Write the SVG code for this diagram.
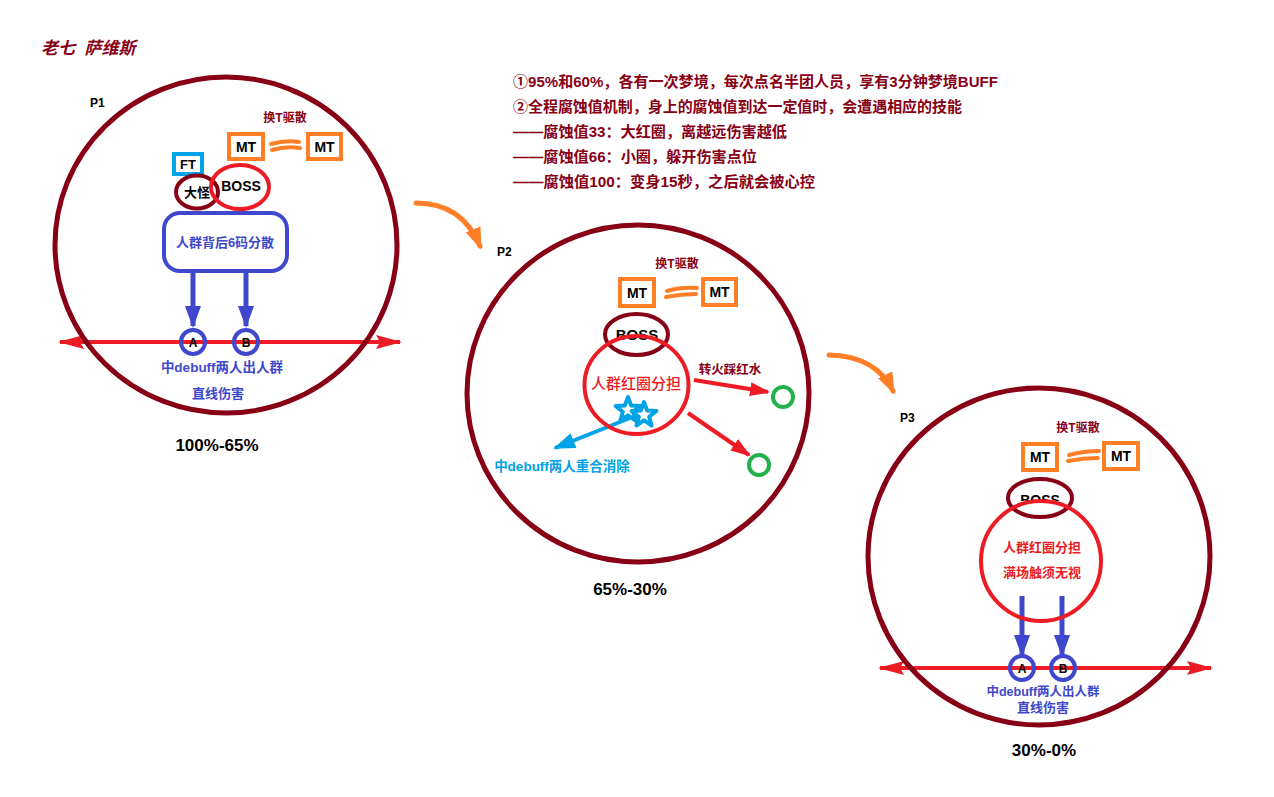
<svg xmlns="http://www.w3.org/2000/svg" width="1274" height="797" viewBox="0 0 1274 797">
<style>
text{font-family:"Liberation Sans","Noto Sans CJK SC",sans-serif;font-weight:bold;dominant-baseline:central}
.c{text-anchor:middle}
.big{fill:none;stroke:#880015;stroke-width:5}
.dr{fill:#880015}
.blk{fill:#000}
.blu{fill:#3f48cc}
.lb{fill:#00a2e8}
.red{fill:#ed1c24}
.mt{fill:#fff;stroke:#ff7f27;stroke-width:4}
.sq{fill:none;stroke:#ff7f27;stroke-width:4;stroke-linecap:round}
.rl{stroke:#ed1c24;stroke-width:4;fill:none}
.ba{stroke:#3f48cc;stroke-width:5;fill:none}
.bc{fill:none;stroke:#3f48cc;stroke-width:4}
.gc{fill:none;stroke:#22b14c;stroke-width:4}
.oa{fill:none;stroke:#ff7f27;stroke-width:5;stroke-linecap:round}
</style>
<defs>
<marker id="mRed" markerUnits="userSpaceOnUse" markerWidth="26" markerHeight="14" refX="24" refY="7" orient="auto-start-reverse"><path d="M0,0 L26,7 L0,14 L4,7 z" fill="#ed1c24"/></marker>
<marker id="mRed2" markerUnits="userSpaceOnUse" markerWidth="20" markerHeight="14" refX="18" refY="7" orient="auto"><path d="M0,0 L20,7 L0,14 z" fill="#ed1c24"/></marker>
<marker id="mBlue" markerUnits="userSpaceOnUse" markerWidth="22" markerHeight="16" refX="20" refY="8" orient="auto"><path d="M0,0 L22,8 L0,16 z" fill="#3f48cc"/></marker>
<marker id="mLB" markerUnits="userSpaceOnUse" markerWidth="22" markerHeight="16" refX="20" refY="8" orient="auto"><path d="M0,0 L22,8 L0,16 z" fill="#00a2e8"/></marker>
<marker id="mOr" markerUnits="userSpaceOnUse" markerWidth="22" markerHeight="16" refX="18" refY="8" orient="auto"><path d="M0,0 L22,8 L0,16 z" fill="#ff7f27"/></marker>
<path id="star" d="M0,-13 L3.2,-4.4 L12.4,-4 L5.2,1.7 L7.6,10.5 L0,5.4 L-7.6,10.5 L-5.2,1.7 L-12.4,-4 L-3.2,-4.4 Z" fill="#fff" stroke="#00a2e8" stroke-width="4" stroke-linejoin="round"/>
<clipPath id="bossClip"><rect x="1000" y="480" width="80" height="21"/></clipPath>
</defs>
<rect width="1274" height="797" fill="#fff"/>

<g id="connectors">
<path d="M193,272 V326" class="ba" marker-end="url(#mBlue)"/>
<path d="M246,272 V326" class="ba" marker-end="url(#mBlue)"/>
<path d="M60,342 H400" class="rl" marker-start="url(#mRed)" marker-end="url(#mRed)"/>
<path d="M1022,596 V655" class="ba" marker-end="url(#mBlue)"/>
<path d="M1062,596 V655" class="ba" marker-end="url(#mBlue)"/>
<path d="M880,668 H1211" class="rl" marker-start="url(#mRed)" marker-end="url(#mRed)"/>
<path d="M694,380 L768,392" class="rl" marker-end="url(#mRed2)"/>
<path d="M688,413 L749,455" class="rl" marker-end="url(#mRed2)"/>
<path d="M630,418 L555,448" fill="none" stroke="#00a2e8" stroke-width="4" marker-end="url(#mLB)"/>
<path d="M416,203 Q462,203 480,246" class="oa" marker-end="url(#mOr)"/>
<path d="M829,355 Q876,356 893,391" class="oa" marker-end="url(#mOr)"/>
</g>

<g id="title"><text x="41" y="48" class="dr" style="font-style:italic;font-size:17px;white-space:pre">老七  萨维斯</text></g>

<g id="notes" style="font-size:15px">
<text x="513" y="81" class="dr" textLength="485" lengthAdjust="spacingAndGlyphs">①95%和60%，各有一次梦境，每次点名半团人员，享有3分钟梦境BUFF</text>
<text x="513" y="106" class="dr" textLength="449" lengthAdjust="spacingAndGlyphs">②全程腐蚀值机制，身上的腐蚀值到达一定值时，会遭遇相应的技能</text>
<text x="513" y="131" class="dr" textLength="274" lengthAdjust="spacingAndGlyphs">——腐蚀值33：大红圈，离越远伤害越低</text>
<text x="513" y="156" class="dr" textLength="244" lengthAdjust="spacingAndGlyphs">——腐蚀值66：小圈，躲开伤害点位</text>
<text x="513" y="181" class="dr" textLength="302" lengthAdjust="spacingAndGlyphs">——腐蚀值100：变身15秒，之后就会被心控</text>
</g>

<!-- P1 -->
<g id="p1">
<ellipse cx="226" cy="245" rx="171" ry="168" class="big"/>
<text x="90" y="103" class="blk" style="font-size:12px">P1</text>
<text x="285" y="118" class="c dr" style="font-size:12px">换T驱散</text>
</g>
<g id="p1-mt1"><rect x="229" y="134" width="34" height="25" class="mt"/><text x="246" y="147" class="c blk" style="font-size:14px">MT</text></g>
<g id="p1-mt2"><rect x="308" y="134" width="33" height="25" class="mt"/><text x="324.5" y="147" class="c blk" style="font-size:14px">MT</text></g>
<g id="p1-swap"><path d="M271,144 Q285,140 299,142 M272,150 Q286,146 300,148" class="sq"/></g>
<g id="p1-ft"><rect x="174" y="154" width="28" height="20" fill="#fff" stroke="#00a2e8" stroke-width="4"/><text x="188" y="164" class="c blk" style="font-size:13px">FT</text></g>
<g id="p1-dagui"><ellipse cx="197" cy="192" rx="21" ry="16.5" fill="none" stroke="#880015" stroke-width="4"/><text x="197" y="192" class="c blk" style="font-size:13px">大怪</text></g>
<g id="p1-boss"><ellipse cx="240" cy="187" rx="29" ry="22" fill="none" stroke="#ed1c24" stroke-width="4"/><text x="241" y="186" class="c blk" style="font-size:14px">BOSS</text></g>
<g id="p1-group"><rect x="164" y="213" width="123" height="58" rx="16" fill="none" stroke="#3f48cc" stroke-width="4"/><text x="225" y="242" class="c blu" style="font-size:13px">人群背后6码分散</text></g>
<g id="p1-A"><circle cx="193" cy="342" r="12" class="bc"/><text x="193" y="343" class="c blk" style="font-size:12px">A</text></g>
<g id="p1-B"><circle cx="246" cy="342" r="12" class="bc"/><text x="246" y="343" class="c blk" style="font-size:12px">B</text></g>
<g id="p1-labels">
<text x="222" y="367" class="c blu" style="font-size:13.5px">中debuff两人出人群</text>
<text x="218" y="393" class="c blu" style="font-size:13px">直线伤害</text>
<text x="217" y="445" class="c blk" style="font-size:17px">100%-65%</text>
</g>

<!-- P2 -->
<g id="p2">
<ellipse cx="638" cy="393.5" rx="171" ry="168.5" class="big"/>
<text x="497" y="252" class="blk" style="font-size:12px">P2</text>
<text x="677" y="264" class="c dr" style="font-size:12px">换T驱散</text>
</g>
<g id="p2-mt1"><rect x="620" y="279" width="34" height="27" class="mt"/><text x="637" y="292.5" class="c blk" style="font-size:14px">MT</text></g>
<g id="p2-mt2"><rect x="703" y="279" width="33" height="26" class="mt"/><text x="719.5" y="292" class="c blk" style="font-size:14px">MT</text></g>
<g id="p2-swap"><path d="M667,291 Q681,287 697,288 M666,297 Q681,294 696,294" class="sq"/></g>
<g id="p2-boss"><ellipse cx="636.5" cy="334.5" rx="31.5" ry="20.5" fill="none" stroke="#880015" stroke-width="4"/><text x="637" y="334" class="c blk" style="font-size:15px">BOSS</text></g>
<g id="p2-share"><ellipse cx="636.5" cy="385" rx="52" ry="49" fill="none" stroke="#ed1c24" stroke-width="4"/><text x="636" y="383" class="c red" style="font-size:15px;font-weight:500">人群红圈分担</text></g>
<g id="p2-stars"><use href="#star" x="628" y="410"/><use href="#star" x="644" y="415"/></g>
<g id="p2-red-label"><text x="730" y="370" class="c dr" style="font-size:12.5px">转火踩红水</text></g>
<g id="p2-g1"><circle cx="783" cy="397" r="10" class="gc"/></g>
<g id="p2-g2"><circle cx="759" cy="465" r="10" class="gc"/></g>
<g id="p2-lb-label"><text x="562" y="466" class="c lb" style="font-size:13.5px">中debuff两人重合消除</text></g>
<g id="p2-pct"><text x="630" y="589" class="c blk" style="font-size:17px">65%-30%</text></g>

<!-- P3 -->
<g id="p3">
<ellipse cx="1039" cy="556.5" rx="171" ry="168.5" class="big"/>
<text x="900" y="418" class="blk" style="font-size:12px">P3</text>
<text x="1078" y="428" class="c dr" style="font-size:12px">换T驱散</text>
</g>
<g id="p3-mt1"><rect x="1023" y="444" width="34" height="26" class="mt"/><text x="1040" y="457" class="c blk" style="font-size:14px">MT</text></g>
<g id="p3-mt2"><rect x="1104" y="443" width="34" height="26" class="mt"/><text x="1121" y="456" class="c blk" style="font-size:14px">MT</text></g>
<g id="p3-swap"><path d="M1069,455 Q1084,451 1099,451 M1068,461 Q1083,458 1098,458" class="sq"/></g>
<g id="p3-boss"><ellipse cx="1040" cy="498" rx="32" ry="19" fill="none" stroke="#880015" stroke-width="4"/><text x="1040" y="500" class="c blk" style="font-size:14px" clip-path="url(#bossClip)">BOSS</text></g>
<g id="p3-share"><ellipse cx="1041" cy="561" rx="60" ry="60" fill="none" stroke="#ed1c24" stroke-width="4"/>
<text x="1042" y="547" class="c red" style="font-size:13px">人群红圈分担</text>
<text x="1042" y="572" class="c red" style="font-size:13px">满场触须无视</text></g>
<g id="p3-A"><circle cx="1022" cy="668" r="12" class="bc"/><text x="1022" y="669" class="c blk" style="font-size:12px">A</text></g>
<g id="p3-B"><circle cx="1063" cy="668" r="12" class="bc"/><text x="1063" y="669" class="c blk" style="font-size:12px">B</text></g>
<g id="p3-labels">
<text x="1043" y="692" class="c blu" style="font-size:12.5px">中debuff两人出人群</text>
<text x="1043" y="707" class="c blu" style="font-size:13px">直线伤害</text>
<text x="1044" y="750" class="c blk" style="font-size:17px">30%-0%</text>
</g>
</svg>
